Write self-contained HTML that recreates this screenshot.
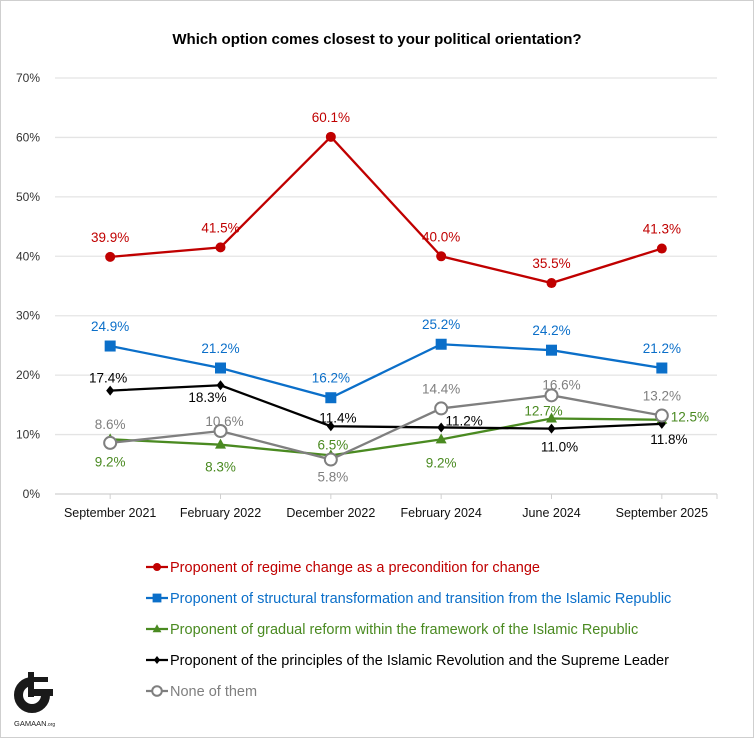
<!DOCTYPE html>
<html><head><meta charset="utf-8"><style>
body{margin:0;background:#fff;}
#wrap{position:relative;width:752px;height:736px;border:1px solid #cfcfcf;background:#fff;overflow:hidden}
svg text{font-family:"Liberation Sans Narrow","Liberation Sans",sans-serif}
</style></head><body>
<div id="wrap">
<svg id="chart" width="754" height="738" style="position:absolute;left:-1px;top:-1px">
<text x="377" y="44" text-anchor="middle" font-size="15" font-weight="bold" fill="#000" style="font-family:'Liberation Sans',sans-serif">Which option comes closest to your political orientation?</text>
<g id="logo">
<path d="M32 681.5 A13.5 13.5 0 1 0 45.5 695" fill="none" stroke="#1a1a1a" stroke-width="9"/>
<rect x="28" y="672" width="6" height="25" fill="#1a1a1a"/>
<rect x="34" y="677" width="14" height="5" fill="#1a1a1a"/>
<rect x="34" y="689" width="19" height="7" fill="#1a1a1a"/>
<text x="14" y="726" font-size="7.5" fill="#222">GAMAAN<tspan font-size="5">.org</tspan></text>
</g>
</svg>
</div>
<script>
const categories=["September 2021","February 2022","December 2022","February 2024","June 2024","September 2025"];
const regimeChange=[39.9,41.5,60.1,40.0,35.5,41.3];
const structural=[24.9,21.2,16.2,25.2,24.2,21.2];
const gradual=[9.2,8.3,6.5,9.2,12.7,12.5];
const principles=[17.4,18.3,11.4,11.2,11.0,11.8];
const noneOfThem=[8.6,10.6,5.8,14.4,16.6,13.2];
const yTicks=[0,10,20,30,40,50,60,70];
const legendLabels=["Proponent of regime change as a precondition for change","Proponent of structural transformation and transition from the Islamic Republic","Proponent of gradual reform within the framework of the Islamic Republic","Proponent of the principles of the Islamic Revolution and the Supreme Leader","None of them"];

const NS="http://www.w3.org/2000/svg";
const svg=document.getElementById('chart');
const X0=55,X1=717,Y0=494,Y70=78;
const xs=i=>X0+(X1-X0)/categories.length*(i+0.5);
const ys=v=>Y0-(Y0-Y70)*v/70;
function mk(tag,at,parent){const e=document.createElementNS(NS,tag);for(const k in at)e.setAttribute(k,at[k]);(parent||svg).appendChild(e);return e;}

yTicks.forEach(t=>{
  const g=mk('line',{x1:X0,x2:X1,y1:ys(t),y2:ys(t),stroke:t===0?'#d0d0d0':'#e4e4e4','stroke-width':1.3});
  
  
  const tx=mk('text',{x:40,y:ys(t)+4,'text-anchor':'end','font-size':12,fill:'#333'});
  tx.textContent=t+'%';
  
  
});
categories.forEach((c,i)=>{
  mk('line',{x1:xs(i),x2:xs(i),y1:Y0,y2:Y0+5,stroke:'#d0d0d0'});
  const tx=mk('text',{x:xs(i),y:517,'text-anchor':'middle','font-size':12.5,fill:'#111'});
  tx.textContent=c;
  
  
});
mk('line',{x1:X1,x2:X1,y1:Y0,y2:Y0+5,stroke:'#d0d0d0'});

function marker(type,x,y,color,g,s){
  s=s||1;
  if(type==='circle')return mk('circle',{cx:x,cy:y,r:5*s,fill:color},g);
  if(type==='square')return mk('rect',{x:x-5.5*s,y:y-5.5*s,width:11*s,height:11*s,fill:color},g);
  if(type==='triangle')return mk('polygon',{points:`${x},${y-6*s} ${x+5.5*s},${y+4*s} ${x-5.5*s},${y+4*s}`,fill:color},g);
  if(type==='diamond')return mk('polygon',{points:`${x},${y-5*s} ${x+4*s},${y} ${x},${y+5*s} ${x-4*s},${y}`,fill:color},g);
  if(type==='ring')return mk('circle',{cx:x,cy:y,r:6*s,fill:'#fff',stroke:color,'stroke-width':2},g);
}
// label offsets (styling, not data): [dx,dy]
const series=[
 {name:'regime-change',vals:regimeChange,color:'#c00000',m:'circle',off:[[0,-20],[0,-20],[0,-20],[0,-20],[0,-20],[0,-20]]},
 {name:'structural',vals:structural,color:'#0b6fc9',m:'square',off:[[0,-20],[0,-20],[0,-20],[0,-20],[0,-20],[0,-20]]},
 {name:'principles',vals:principles,color:'#000',m:'diamond',off:[[-2,-13],[-13,12],[7,-9],[23,-7],[8,18],[7,15]]},
 {name:'none',vals:noneOfThem,color:'#7f7f7f',m:'ring',off:[[0,-19],[4,-10],[2,17],[0,-20],[10,-11],[0,-20]]},
 {name:'gradual',vals:gradual,color:'#4a8a21',m:'triangle',off:[[0,22],[0,22],[2,-11],[0,23],[-8,-8],[28,-3]]}
];
const drawOrder=[0,1,4,2,3];
drawOrder.forEach(si=>{
  const s=series[si];
  const g=mk('g',{});
  
  
  const pts=s.vals.map((v,i)=>xs(i)+','+ys(v)).join(' ');
  mk('polyline',{points:pts,fill:'none',stroke:s.color,'stroke-width':2.3},g);
  s.vals.forEach((v,i)=>{
    const m=marker(s.m,xs(i),ys(v),s.color,g);
    
    
  });
});
series.forEach(s=>{
  s.vals.forEach((v,i)=>{
    const t=mk('text',{x:xs(i)+s.off[i][0],y:ys(v)+s.off[i][1]+5,'text-anchor':'middle','font-size':13.5,fill:s.color});
    t.textContent=v.toFixed(1)+'%';
    
    
  });
});
const legOrder=[0,1,4,2,3];
legOrder.forEach((si,k)=>{
  const s=series[si];
  const y=567+k*31;
  const g=mk('g',{});
  
  
  mk('line',{x1:146,x2:168,y1:y,y2:y,stroke:s.color,'stroke-width':2.3},g);
  marker(s.m,157,y,s.color,g,0.8);
  const t=mk('text',{x:170,y:y+5,'font-size':14.5,fill:s.color},g);
  t.textContent=legendLabels[k];
});
</script>
</body></html>
